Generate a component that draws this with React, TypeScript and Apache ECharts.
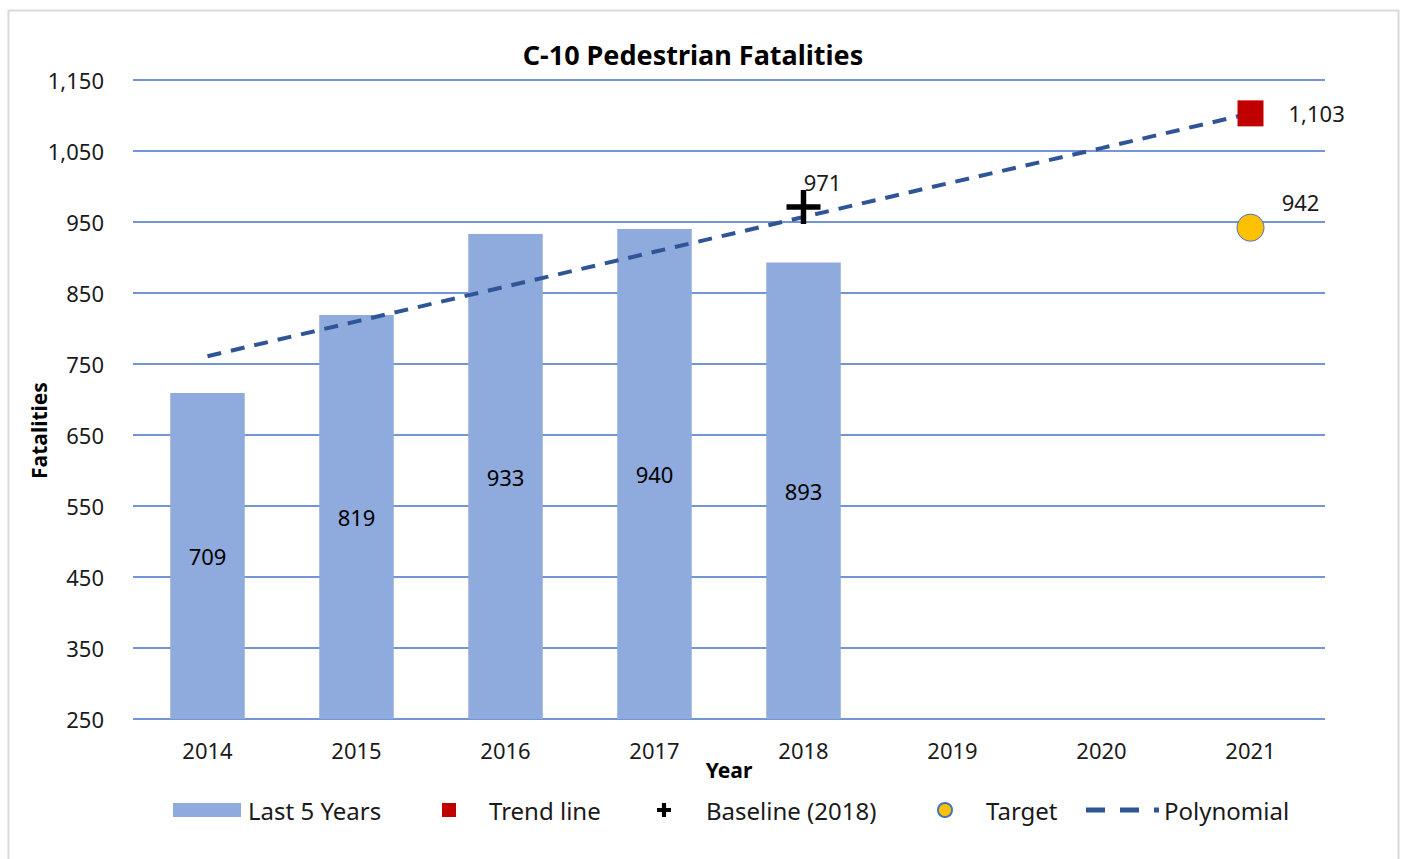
import React, { useEffect, useRef } from "react";
import * as echarts from "echarts";

const years = ["2014", "2015", "2016", "2017", "2018", "2019", "2020", "2021"];
const last5Years = [709, 819, 933, 940, 893, null, null, null];
const trendLine = [null, null, null, null, null, null, null, 1103];
const baseline = [null, null, null, null, 971, null, null, null];
const target = [null, null, null, null, null, null, null, 942];
const polynomial = [761, 810, 859, 908, 957, 1006, 1054, 1103];
const yTicks = [250, 350, 450, 550, 650, 750, 850, 950, 1050, 1150];

const FONT = "'Century Gothic', 'Noto Sans', sans-serif";
const TXT = "#1a1a1a";
const PLUS = "path://M8.4,0H11.6V8.4H20V11.6H11.6V20H8.4V11.6H0V8.4H8.4Z";
const PLUS_ICON = "path://M7,0H13V7H20V13H13V20H7V13H0V7H7Z";
const DASH_ICON =
  "path://M0,0H0.01V0.01H0Z M0,13.99H0.01V14H0Z M0,4.5H19V9.5H0Z M34,4.5H53V9.5H34Z M68,4.5H73V9.5H68Z";

const legendText = (padLeft: number) => ({
  fontFamily: FONT,
  fontSize: 24,
  color: TXT,
  padding: [0, 0, 0, padLeft],
});

const mkLegend = (name: string, left: number, w: number, icon: string, padLeft: number) => ({
  left,
  top: 798,
  padding: 0,
  itemWidth: w,
  itemHeight: 14,
  symbolKeepAspect: false,
  textStyle: legendText(padLeft),
  data: [{ name, icon }],
});

export default function App() {
  const ref = useRef<HTMLDivElement>(null);
  useEffect(() => {
    if (!ref.current) return;
    const chart = echarts.init(ref.current, undefined, { renderer: "svg" });
    const fmt = (v: number) => v.toLocaleString("en-US");
    chart.setOption({
      animation: false,
      textStyle: { fontFamily: FONT, color: TXT },
      title: {
        text: "C-10 Pedestrian Fatalities",
        left: 693,
        top: 41,
        padding: 0,
        textAlign: "center",
        textStyle: { fontFamily: FONT, fontSize: 27, fontWeight: "bold", color: "#000" },
      },
      graphic: [
        {
          type: "rect",
          shape: { x: 8.5, y: 10.5, width: 1390, height: 870 },
          style: { fill: "none", stroke: "#d9d9d9", lineWidth: 2 },
          silent: true,
        },
      ],
      grid: { left: 133, right: 79, top: 80, bottom: 140, containLabel: false },
      legend: [
        mkLegend("Last 5 Years", 173, 68, "rect", 2),
        mkLegend("Trend line", 442, 14, "rect", 28),
        mkLegend("Baseline (2018)", 657, 14, PLUS_ICON, 30),
        mkLegend("Target", 937, 14, "circle", 29),
        mkLegend("Polynomial", 1086, 73, DASH_ICON, 0),
      ],
      xAxis: {
        type: "category",
        data: years,
        name: "Year",
        nameLocation: "middle",
        nameGap: 40,
        nameMoveOverlap: false,
        nameTextStyle: { fontFamily: FONT, fontSize: 21, fontWeight: "bold", color: "#000" },
        axisLine: { show: false },
        axisTick: { show: false },
        axisLabel: { fontFamily: FONT, fontSize: 22, color: TXT, margin: 20 },
      },
      yAxis: {
        type: "value",
        min: 250,
        max: 1150,
        name: "Fatalities",
        nameLocation: "middle",
        nameGap: 84,
        nameMoveOverlap: false,
        nameRotate: 90,
        nameTextStyle: {
          fontFamily: FONT,
          fontSize: 21,
          fontWeight: "bold",
          color: "#000",
          padding: [0, 62, 0, 0],
        },
        axisLine: { show: false },
        axisTick: { show: false, customValues: yTicks },
        axisLabel: {
          fontFamily: FONT,
          fontSize: 22,
          color: TXT,
          margin: 29,
          customValues: yTicks,
          formatter: (v: number) => fmt(v),
        },
        splitLine: { show: true, lineStyle: { color: "#4472C4", width: 1.5 } },
      },
      series: [
        {
          name: "Last 5 Years",
          type: "bar",
          data: last5Years,
          barWidth: "50%",
          itemStyle: { color: "#8FAADC" },
          label: {
            show: true,
            position: "inside",
            fontFamily: FONT,
            fontSize: 22,
            color: "#000",
          },
          z: 2,
        },
        {
          name: "Polynomial",
          type: "line",
          data: polynomial,
          symbol: "none",
          lineStyle: { color: "#2F5597", width: 4, type: [14, 10] },
          itemStyle: { color: "#2F5597" },
          z: 3,
        },
        {
          name: "Trend line",
          type: "scatter",
          data: trendLine,
          symbol: "rect",
          symbolSize: 26,
          itemStyle: { color: "#C00000", opacity: 1 },
          label: {
            show: true,
            position: "right",
            distance: 25,
            fontFamily: FONT,
            fontSize: 22,
            color: TXT,
            formatter: (p: any) => fmt(p.value),
          },
          z: 5,
        },
        {
          name: "Baseline (2018)",
          type: "scatter",
          data: baseline,
          symbol: PLUS,
          symbolSize: 34,
          itemStyle: { color: "#000", opacity: 1 },
          label: {
            show: true,
            position: "top",
            offset: [19, 8],
            fontFamily: FONT,
            fontSize: 22,
            color: TXT,
          },
          z: 5,
        },
        {
          name: "Target",
          type: "scatter",
          data: target,
          symbol: "circle",
          symbolSize: 27,
          itemStyle: { color: "#FFC000", borderColor: "#4472C4", borderWidth: 1, opacity: 1 },
          label: {
            show: true,
            position: "top",
            offset: [50, 4],
            fontFamily: FONT,
            fontSize: 22,
            color: TXT,
          },
          z: 5,
        },
      ],
    });
    return () => chart.dispose();
  }, []);
  return (
    <div
      ref={ref}
      style={{ position: "fixed", left: 0, top: 0, width: 1404, height: 859, background: "#fff" }}
    />
  );
}
